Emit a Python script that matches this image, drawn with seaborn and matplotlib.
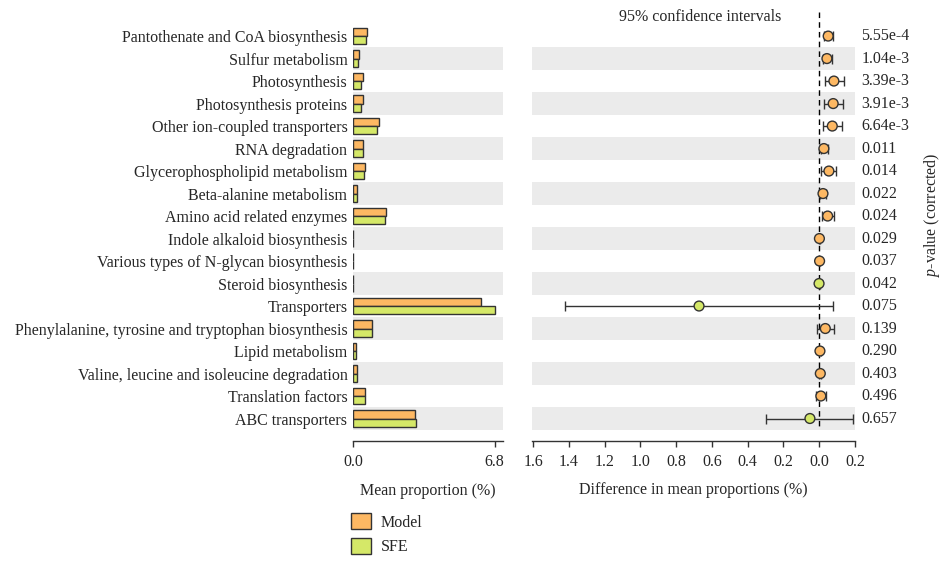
import matplotlib
matplotlib.use("Agg")
import matplotlib.pyplot as plt
from matplotlib.patches import Patch
from matplotlib.transforms import blended_transform_factory
import numpy as np
import pandas as pd
import seaborn as sns

# ---- data -------------------------------------------------------------
pathways = [
    "Pantothenate and CoA biosynthesis",
    "Sulfur metabolism",
    "Photosynthesis",
    "Photosynthesis proteins",
    "Other ion-coupled transporters",
    "RNA degradation",
    "Glycerophospholipid metabolism",
    "Beta-alanine metabolism",
    "Amino acid related enzymes",
    "Indole alkaloid biosynthesis",
    "Various types of N-glycan biosynthesis",
    "Steroid biosynthesis",
    "Transporters",
    "Phenylalanine, tyrosine and tryptophan biosynthesis",
    "Lipid metabolism",
    "Valine, leucine and isoleucine degradation",
    "Translation factors",
    "ABC transporters",
]
model_mean = [0.69, 0.29, 0.47, 0.47, 1.24, 0.50, 0.58, 0.21, 1.58,
              0.012, 0.012, 0.010, 6.16, 0.92, 0.144, 0.21, 0.58, 2.96]
sfe_mean = [0.63, 0.24, 0.40, 0.40, 1.17, 0.48, 0.55, 0.19, 1.53,
            0.012, 0.010, 0.011, 6.82, 0.89, 0.140, 0.20, 0.57, 3.01]
diff = [0.050, 0.043, 0.082, 0.078, 0.073, 0.026, 0.054, 0.021, 0.047,
        0.001, 0.002, -0.001, -0.672, 0.034, 0.004, 0.006, 0.009, -0.052]
ci_low = [0.026, 0.020, 0.030, 0.026, 0.022, 0.010, 0.009, 0.004, 0.015,
          -0.002, -0.001, -0.004, -1.420, -0.013, 0.000, 0.001, -0.019, -0.297]
ci_high = [0.075, 0.069, 0.138, 0.134, 0.125, 0.047, 0.093, 0.037, 0.080,
           0.004, 0.005, 0.002, 0.075, 0.082, 0.008, 0.011, 0.037, 0.190]
p_labels = ["5.55e-4", "1.04e-3", "3.39e-3", "3.91e-3", "6.64e-3", "0.011",
            "0.014", "0.022", "0.024", "0.029", "0.037", "0.042", "0.075",
            "0.139", "0.290", "0.403", "0.496", "0.657"]
groups = ["Model", "SFE"]
colors = {"Model": "#FDB863", "SFE": "#D5E868"}
left_ticks = [0.0, 6.8]
right_ticks = [-1.6, -1.4, -1.2, -1.0, -0.8, -0.6, -0.4, -0.2, 0.0, 0.2]

# ---- style ------------------------------------------------------------
sns.set_style("white")
plt.rcParams["font.family"] = ["Liberation Serif", "DejaVu Serif"]
plt.rcParams["mathtext.fontset"] = "custom"
plt.rcParams["mathtext.rm"] = "Liberation Serif"
plt.rcParams["mathtext.it"] = "Liberation Serif:italic"
FS = 11.5
EDGE = "#333333"
STRIPE = "#EBEBEB"

n = len(pathways)
y_top, y_bot = -1.07, 18.0

fig = plt.figure(figsize=(9.41, 5.61), dpi=100)
W, H = 941, 561
ax1 = fig.add_axes([353 / W, 1 - 441 / H, 150 / W, 429 / H])
ax2 = fig.add_axes([532 / W, 1 - 441 / H, 323 / W, 429 / H])

# ---- left panel: mean proportions ------------------------------------
bars = pd.DataFrame({
    "pathway": pathways * 2,
    "group": ["Model"] * n + ["SFE"] * n,
    "value": model_mean + sfe_mean,
})
sns.barplot(data=bars, x="value", y="pathway", hue="group", order=pathways,
            hue_order=groups, palette=colors, saturation=1, orient="h",
            width=0.74, edgecolor=EDGE, linewidth=1.0, ax=ax1, legend=False,
            zorder=3)
for i in range(n):
    if i % 2 == 1:
        for ax in (ax1, ax2):
            ax.axhspan(i - 0.5, i + 0.5, color=STRIPE, lw=0, zorder=0)

ax1.set_xlim(0, 7.2)
ax1.set_ylim(y_bot, y_top)
ax1.set_xticks(left_ticks)
ax1.set_xticklabels([f"{t:.1f}" for t in left_ticks])
ax1.set_yticks(range(n))
ax1.set_yticklabels(pathways, fontsize=FS)
ax1.tick_params(axis="y", length=0, pad=4)
ax1.tick_params(axis="x", length=4, width=1, color=EDGE, labelsize=FS,
                pad=5, direction="out", bottom=True)
ax1.set_xlabel("Mean proportion (%)", fontsize=FS, labelpad=10)
ax1.set_ylabel("")
for side in ("top", "right", "left"):
    ax1.spines[side].set_visible(False)
ax1.spines["bottom"].set_color(EDGE)
ax1.spines["bottom"].set_linewidth(1)

# ---- right panel: differences with 95% CI ----------------------------
pts = pd.DataFrame({
    "diff": diff,
    "row": np.arange(n),
    "group": ["Model" if d > 0 else "SFE" for d in diff],
})
lo = np.array(diff) - np.array(ci_low)
hi = np.array(ci_high) - np.array(diff)
ax2.errorbar(diff, np.arange(n), xerr=[lo, hi], fmt="none", ecolor=EDGE,
             elinewidth=1, capsize=3.5, capthick=1, zorder=3)
ax2.vlines(0, y_top, n - 0.5, colors="black", linestyles=(0, (4, 3)),
           lw=1, zorder=2)
sns.scatterplot(data=pts, x="diff", y="row", hue="group", palette=colors,
                s=50, edgecolor=EDGE, linewidth=1, ax=ax2, legend=False,
                zorder=4)

ax2.set_xlim(-1.606, 0.2)
ax2.set_ylim(y_bot, y_top)
ax2.set_xticks(right_ticks)
ax2.set_xticklabels([f"{abs(t):.1f}" for t in right_ticks])
ax2.set_yticks([])
ax2.tick_params(axis="x", length=4, width=1, color=EDGE, labelsize=FS,
                pad=5, direction="out", bottom=True)
ax2.set_xlabel("Difference in mean proportions (%)", fontsize=FS, labelpad=9)
ax2.set_ylabel("")
for side in ("top", "right", "left"):
    ax2.spines[side].set_visible(False)
ax2.spines["bottom"].set_color(EDGE)
ax2.spines["bottom"].set_linewidth(1)

trans = blended_transform_factory(ax2.transAxes, ax2.transData)
for i, lab in enumerate(p_labels):
    ax2.text(1.02, i, lab, transform=trans, ha="left", va="center",
             fontsize=FS)

fig.text(700 / W, 1 - 17 / H, "95% confidence intervals", ha="center",
         va="center", fontsize=FS)
fig.text(932 / W, 1 - 215 / H, "$p$-value (corrected)", ha="center",
         va="center", rotation=90, fontsize=FS)

handles = [Patch(facecolor=colors[g], edgecolor=EDGE, linewidth=1)
           for g in groups]
fig.legend(handles, groups, loc="upper left",
           bbox_to_anchor=(351 / W, 1 - 513 / H), frameon=False,
           fontsize=FS, handlelength=1.25, handleheight=1.2,
           handletextpad=0.6, labelspacing=0.45, borderaxespad=0,
           borderpad=0)

fig.savefig("out.png", dpi=100)
